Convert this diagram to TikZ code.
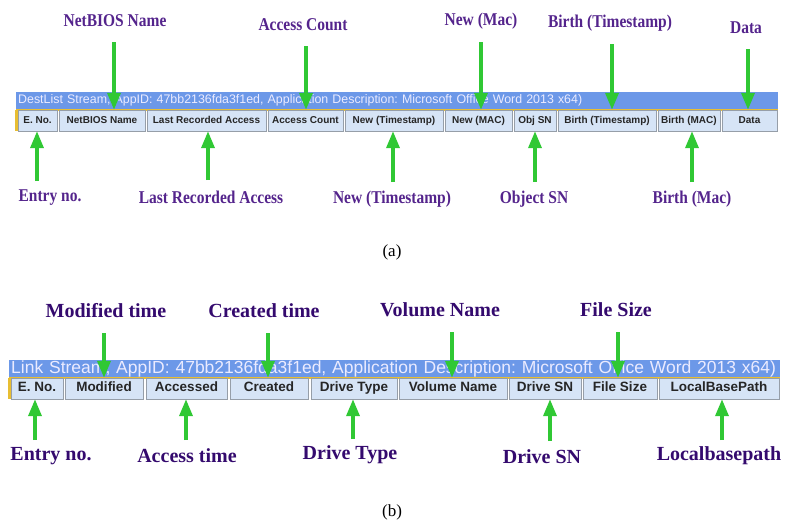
\documentclass[tikz,border=0pt]{standalone}
\usepackage{fontspec}
\setmainfont{Liberation Serif}
\setsansfont{Liberation Sans}
\newfontfamily\narrowserif[FakeStretch=0.86]{Liberation Serif}
\usetikzlibrary{arrows.meta,calc}
\frenchspacing
\definecolor{barblue}{RGB}{108,152,232}
\definecolor{cellblue}{RGB}{214,228,246}
\definecolor{cellgray}{RGB}{150,158,168}
\definecolor{baryellow}{RGB}{232,190,50}
\definecolor{arrowgreen}{RGB}{48,200,52}
\definecolor{tagpurple}{RGB}{84,36,140}
\definecolor{tagindigo}{RGB}{52,10,110}
\begin{document}
\begin{tikzpicture}[
  x=1pt, y=-1pt,
  streambar/.style={fill=barblue, text=white!92!blue, anchor=north west, align=left, inner xsep=2pt, inner ysep=0pt, minimum height=17pt},
  cell/.style={draw=cellgray, fill=cellblue, inner sep=0pt, minimum height=21pt, text height=0.72em, text depth=0.2em, text=black!85},
  tagA/.style={font=\narrowserif\bfseries\fontsize{18}{20}\selectfont, text=tagpurple, inner sep=1pt},
  tagB/.style={font=\bfseries\fontsize{20}{22}\selectfont, text=tagindigo, inner sep=1pt},
  garrow/.style={draw=arrowgreen, line width=3.5pt, -{Triangle[width=13pt,length=17pt]}},
  caption/.style={font=\fontsize{17}{19}\selectfont}
]
\useasboundingbox (0,0) rectangle (785,525);

% (a) DestList stream
\node[streambar, text width=758pt, font=\sffamily\fontsize{12.4}{14}\selectfont] (barA) at (16,92) {DestList Stream, AppID: 47bb2136fda3f1ed, Application Description: Microsoft Office Word 2013 x64)};
\fill[baryellow] (16,108.5) rectangle (778,110.5);
\fill[baryellow] (15,110) rectangle (17.5,131);
\foreach \name/\l/\r/\txt in {cEa/18/57/E. No., cNba/59/145/NetBIOS Name, cLra/147/266/Last Recorded Access, cAca/268/343/Access Count, cNta/345/443/New (Timestamp), cNma/445/512/New (MAC), cOsa/514/556/Obj SN, cBta/558/656/Birth (Timestamp), cBma/658/720/Birth (MAC), cDa/722/777/Data}
  \node[cell, font=\sffamily\bfseries\fontsize{10}{12}\selectfont, minimum width={(\r-\l)*1pt}] (\name) at ({(\l+\r)/2},120.5) {\txt};

\node[tagA] (lNba) at (115,21) {NetBIOS Name};
\node[tagA] (lAca) at (303,25) {Access Count};
\node[tagA] (lNma) at (481,21) {New (Mac)};
\node[tagA] (lBta) at (610,23) {Birth (Timestamp)};
\node[tagA] (lDa) at (746,28) {Data};
\node[tagA] (lEa) at (50,198) {Entry no.};
\node[tagA] (lLra) at (211,197) {Last Recorded Access};
\node[tagA] (lNta) at (392,199) {New (Timestamp)};
\node[tagA] (lOsa) at (534,199) {Object SN};
\node[tagA] (lBma) at (692,199) {Birth (Mac)};

\foreach \lab/\cell/\dx in {lNba/cNba/-1, lAca/cAca/3, lNma/cNma/0, lBta/cBta/2, lDa/cDa/2}
  \draw[garrow] ($(\lab.center)+(\dx,21)$) -- ($(\lab.center |- \cell.north)+(\dx,0)$);
\foreach \lab/\cell/\dx in {lEa/cEa/-13, lLra/cLra/-3, lNta/cNta/1, lOsa/cOsa/1, lBma/cBma/0}
  \draw[garrow] ($(\lab.center)+(\dx,-17)$) -- ($(\lab.center |- \cell.south)+(\dx,0)$);

\node[caption] (capA) at (392,252) {(a)};

% (b) Link stream
\node[streambar, text width=767pt, font=\sffamily\fontsize{17.5}{19}\selectfont] (barB) at (9,360) {Link Stream, AppID: 47bb2136fda3f1ed, Application Description: Microsoft Office Word 2013 x64)};
\fill[baryellow] (9,376.5) rectangle (780,378.5);
\fill[baryellow] (8,378) rectangle (10.5,399);
\foreach \name/\l/\r/\txt in {cEb/11/63/E. No., cMob/65/143/Modified, cAcb/146/227/Accessed, cCrb/230/308/Created, cDtb/311/397/Drive Type, cVnb/399/507/Volume Name, cDsb/509/581/Drive SN, cFsb/583/657/File Size, cLbb/659/779/LocalBasePath}
  \node[cell, font=\sffamily\bfseries\fontsize{13.5}{15}\selectfont, minimum width={(\r-\l)*1pt}] (\name) at ({(\l+\r)/2},388.5) {\txt};

\node[tagB] (lMob) at (106,311) {Modified time};
\node[tagB] (lCrb) at (264,311) {Created time};
\node[tagB] (lVnb) at (440,310) {Volume Name};
\node[tagB] (lFsb) at (616,310) {File Size};
\node[tagB] (lEb) at (51,456) {Entry no.};
\node[tagB] (lAcb) at (187,456) {Access time};
\node[tagB] (lDtb) at (350,455) {Drive Type};
\node[tagB] (lDsb) at (542,457) {Drive SN};
\node[tagB] (lLbb) at (719,456) {Localbasepath};

\foreach \lab/\cell/\dx in {lMob/cMob/-2, lCrb/cCrb/4, lVnb/cVnb/12, lFsb/cFsb/2}
  \draw[garrow] ($(\lab.center)+(\dx,22)$) -- ($(\lab.center |- \cell.north)+(\dx,0)$);
\foreach \lab/\cell/\dx in {lEb/cEb/-16, lAcb/cAcb/-1, lDtb/cDtb/3, lDsb/cDsb/8, lLbb/cLbb/3}
  \draw[garrow] ($(\lab.center)+(\dx,-16)$) -- ($(\lab.center |- \cell.south)+(\dx,0)$);

\node[caption] (capB) at (392,512) {(b)};
\end{tikzpicture}
\end{document}
